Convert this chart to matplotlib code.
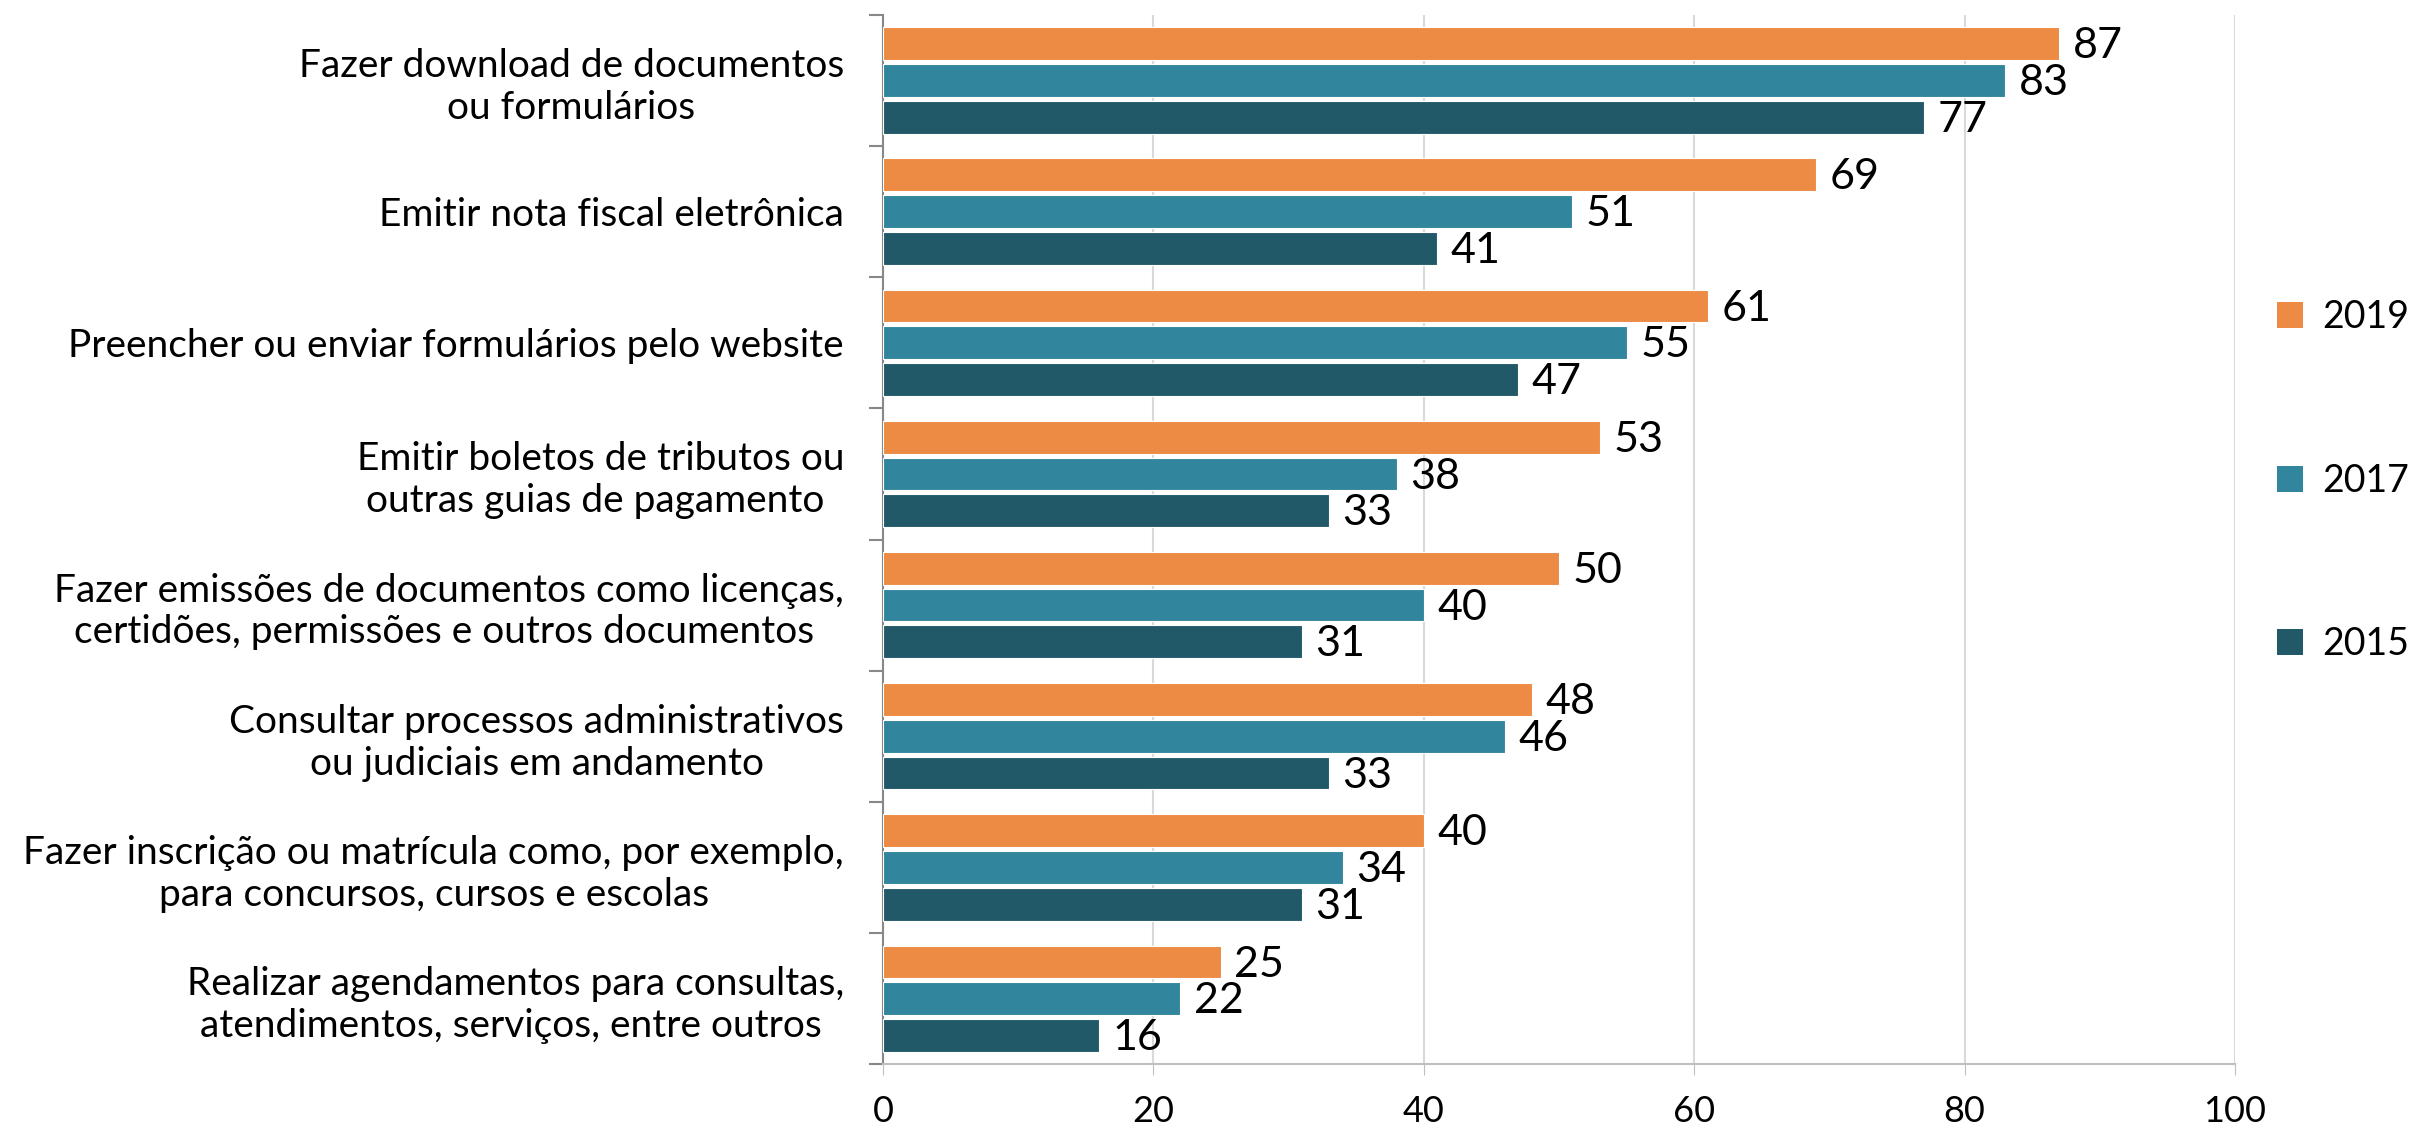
import numpy as np
import matplotlib
matplotlib.use("Agg")
import matplotlib.pyplot as plt
from matplotlib.patches import Patch

plt.rcParams["font.family"] = ["Lato", "DejaVu Sans"]

categories = [
    "Fazer download de documentos\nou formulários",
    "Emitir nota fiscal eletrônica",
    "Preencher ou enviar formulários pelo website",
    "Emitir boletos de tributos ou\noutras guias de pagamento ",
    "Fazer emissões de documentos como licenças,\ncertidões, permissões e outros documentos ",
    "Consultar processos administrativos\nou judiciais em andamento",
    "Fazer inscrição ou matrícula como, por exemplo,\npara concursos, cursos e escolas",
    "Realizar agendamentos para consultas,\natendimentos, serviços, entre outros ",
]
years = ["2019", "2017", "2015"]
v2019 = [87, 69, 61, 53, 50, 48, 40, 25]
v2017 = [83, 51, 55, 38, 40, 46, 34, 22]
v2015 = [77, 41, 47, 33, 31, 33, 31, 16]
colors = ["#ED8A44", "#31859C", "#215968"]

fig = plt.figure(figsize=(24.17, 11.37), dpi=100)
ax = fig.add_axes([0.3653, 0.064, 0.5594, 0.923])

n = len(categories)
y = np.arange(n)
offsets = [-0.28, 0.0, 0.28]
for vals, col, off in zip([v2019, v2017, v2015], colors, offsets):
    bars = ax.barh(y + off, vals, height=0.25, color=col, edgecolor="white",
                   linewidth=0.8, zorder=3)
    for b, v in zip(bars, vals):
        ax.text(b.get_width() + 1.0, b.get_y() + b.get_height() / 2 + 0.02, str(v),
                va="center", ha="left", fontsize=31, zorder=4)

ax.set_xlim(0, 100)
ax.set_ylim(n - 0.5, -0.5)
ax.set_xticks(range(0, 101, 20))
ax.tick_params(axis="x", labelsize=26, length=8, color="#BFBFBF", pad=14)
ax.set_yticks(y)
ax.set_yticklabels(categories, fontsize=28, multialignment="center")
ax.tick_params(axis="y", length=0, pad=28)
ax.set_yticks(np.arange(-0.5, n, 1.0), minor=True)
ax.tick_params(axis="y", which="minor", length=10, color="#888888", width=1.5)

ax.grid(axis="x", color="#D9D9D9", linewidth=1.5, zorder=0)
ax.set_axisbelow(True)
for s in ["top", "right"]:
    ax.spines[s].set_visible(False)
ax.spines["left"].set_color("#888888")
ax.spines["left"].set_linewidth(1.5)
ax.spines["bottom"].set_color("#BFBFBF")
ax.spines["bottom"].set_linewidth(1.5)

handles = [Patch(facecolor=c, edgecolor="none") for c in colors]
fig.legend(handles, years, loc="center left", bbox_to_anchor=(0.942, 0.577),
           frameon=False, fontsize=27, labelspacing=3.4, handlelength=0.7,
           handleheight=0.7, handletextpad=0.5, borderpad=0, borderaxespad=0)

fig.savefig("out.png", dpi=100)
